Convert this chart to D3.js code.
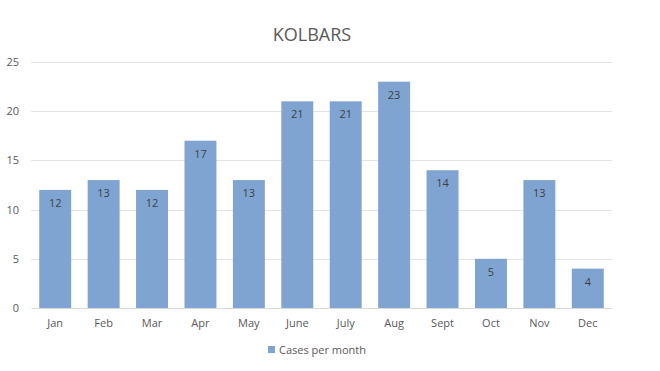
<!DOCTYPE html>
<html>
<head>
<meta charset="utf-8">
<script src="https://cdn.jsdelivr.net/npm/d3@7"></script>
<style>
  body { margin: 0; background: #fff; }
  text { font-family: "Open Sans", "Liberation Sans", sans-serif; }
</style>
</head>
<body>
<div id="wrapper"></div>
<script>
// chart data
const months = ["Jan", "Feb", "Mar", "Apr", "May", "June", "July", "Aug", "Sept", "Oct", "Nov", "Dec"];
const cases = [12, 13, 12, 17, 13, 21, 21, 23, 14, 5, 13, 4];
const yTicks = [0, 5, 10, 15, 20, 25];
const seriesName = "Cases per month";
const chartTitle = "KOLBARS";

const W = 660, H = 371;
const margin = {top: 62, right: 48, bottom: 63, left: 31};
const width = W - margin.left - margin.right;
const height = H - margin.top - margin.bottom;
const barColor = "#7fa4d2";

const svg = d3.select("#wrapper")
  .append("svg")
  .attr("width", W)
  .attr("height", H);

svg.append("text")
  .attr("x", 312)
  .attr("y", 41)
  .attr("text-anchor", "middle")
  .style("font-size", "18px")
  .style("fill", "#595959")
  .text(chartTitle);

const bounds = svg.append("g")
  .attr("transform", "translate(" + margin.left + "," + margin.top + ")");

const xScale = d3.scaleBand()
  .domain(months)
  .range([0, width])
  .paddingInner(0.34)
  .paddingOuter(0.17);

const yScale = d3.scaleLinear()
  .domain([0, 25])
  .range([height, 0]);

// gridlines
bounds.selectAll(".grid")
  .data(yTicks.filter(d => d > 0))
  .enter()
  .append("line")
  .attr("x1", 0)
  .attr("x2", width)
  .attr("y1", d => Math.round(yScale(d)) + 0.5)
  .attr("y2", d => Math.round(yScale(d)) + 0.5)
  .style("stroke", "#e3e3e3")
  .style("stroke-width", 1);

// y axis labels
const yAxis = d3.axisLeft(yScale).tickValues(yTicks).tickSize(0).tickPadding(12);
bounds.append("g")
  .call(yAxis)
  .call(g => g.select(".domain").remove())
  .selectAll("text")
  .style("font-size", "11px")
  .style("fill", "#595959");

// bars
bounds.selectAll(".bar")
  .data(cases)
  .enter()
  .append("rect")
  .attr("x", (d, i) => xScale(months[i]))
  .attr("y", d => yScale(d))
  .attr("width", xScale.bandwidth())
  .attr("height", d => height - yScale(d))
  .style("fill", barColor);

// value labels
bounds.selectAll(".lbl")
  .data(cases)
  .enter()
  .append("text")
  .attr("x", (d, i) => xScale(months[i]) + xScale.bandwidth() / 2)
  .attr("y", d => yScale(d) + 17)
  .attr("text-anchor", "middle")
  .style("font-size", "11px")
  .style("fill", "#404040")
  .text(d => d);

// x axis
const xAxis = d3.axisBottom(xScale).tickSize(0).tickPadding(11);
bounds.append("g")
  .attr("transform", "translate(0," + height + ")")
  .call(xAxis)
  .call(g => g.select(".domain").style("stroke", "#d9d9d9"))
  .selectAll("text")
  .style("font-size", "11px")
  .style("fill", "#595959");

// legend
const legend = svg.append("g").attr("transform", "translate(268,346)");
legend.append("rect")
  .attr("width", 7)
  .attr("height", 7)
  .style("fill", barColor);
legend.append("text")
  .attr("x", 11)
  .attr("y", 8)
  .style("font-size", "11px")
  .style("fill", "#595959")
  .text(seriesName);
</script>
</body>
</html>
